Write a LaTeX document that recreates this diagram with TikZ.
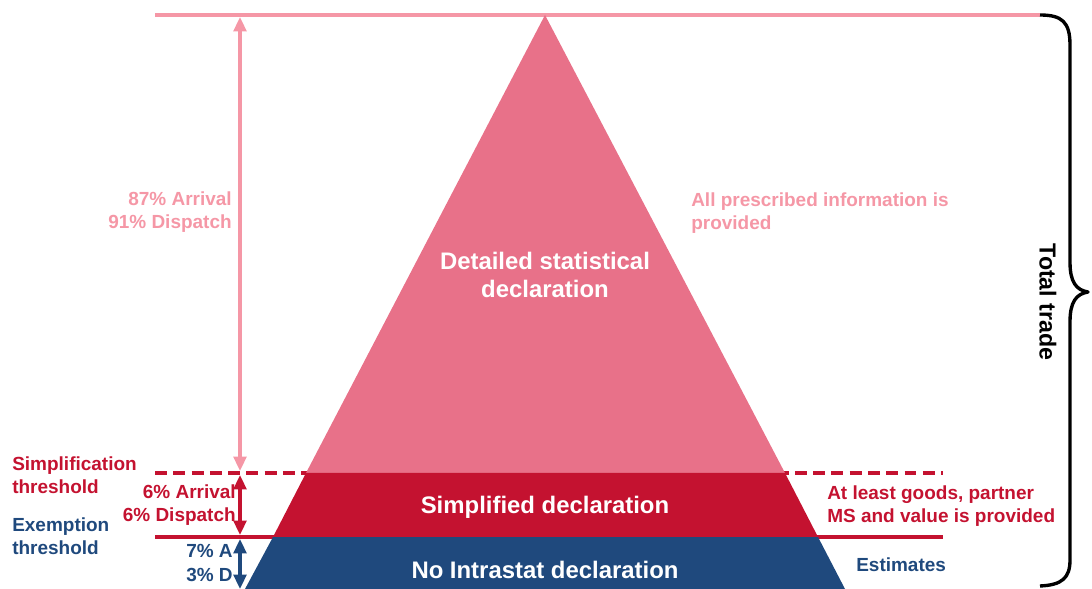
\documentclass[tikz,border=0pt]{standalone}
\usepackage{fontspec}
\setmainfont{Liberation Sans}
\usetikzlibrary{arrows.meta}
\definecolor{lightpink}{HTML}{F597A6}
\definecolor{midpink}{HTML}{E87189}
\definecolor{darkred}{HTML}{C41230}
\definecolor{darkblue}{HTML}{1F497D}

\begin{document}
\begin{tikzpicture}[x=0.025cm, y=-0.025cm,
    lbl/.style={font=\bfseries\fontsize{13.5}{16.4}\selectfont, inner sep=0pt},
    big/.style={font=\bfseries\fontsize{17}{19.9}\selectfont, white, align=center, inner sep=0pt},
    dim/.style={{Triangle[length=3.6mm,width=3.2mm]}-{Triangle[length=3.6mm,width=3.2mm]}, line width=2.2pt}]
    \useasboundingbox (0,0) rectangle (1092,589);

    % Punkty charakterystyczne
    \coordinate (apex) at (545,15);
    \coordinate (topL) at (155,15);
    \coordinate (topR) at (1040,15);
    \coordinate (simpL) at (155,473);
    \coordinate (simpR) at (943,473);
    \coordinate (exL) at (155,537);
    \coordinate (exR) at (943,537);

    % Linie progow
    \draw[lightpink, line width=2.6pt] (topL) -- (topR);
    \draw[darkred, line width=2.6pt, dash pattern=on 8.5pt off 4.5pt] (simpL) -- (simpR);
    \draw[darkred, line width=2.6pt] (exL) -- (exR);

    % Piramida
    \fill[midpink] (apex) -- (306,473) -- (785,473) -- cycle;
    \fill[darkred] (306,473) -- (273,537) -- (818,537) -- (785,473) -- cycle;
    \fill[darkblue] (273,537) -- (245,589) -- (845,589) -- (818,537) -- cycle;

    % Napisy w piramidzie
    \node[big] (detailed) at (545,275) {Detailed statistical\\declaration};
    \node[big] (simplified) at (545,507) {Simplified declaration};
    \node[big] (nointra) at (545,570) {No Intrastat declaration};

    % Strzalki wymiarowe
    \coordinate (d1) at (240,17);
    \coordinate (d2) at (240,471);
    \coordinate (d3) at (240,475);
    \coordinate (d4) at (240,535);
    \coordinate (d5) at (240,539);
    \coordinate (d6) at (240,589);
    \draw[dim, lightpink] (d1) -- (d2);
    \draw[dim, darkred] (d3) -- (d4);
    \draw[dim, darkblue] (d5) -- (d6);

    % Udzialy
    \node[lbl, lightpink, anchor=east, align=right] (share1) at (232,212) {87\% Arrival\\91\% Dispatch};
    \node[lbl, darkred, anchor=east, align=right] (share2) at (236,505) {6\% Arrival\\6\% Dispatch};
    \node[lbl, darkblue, anchor=east, align=right] (share3) at (233,563) {7\% A\\3\% D};

    % Progi
    \node[lbl, darkred, anchor=west, align=left] (simpth) at (12,475) {Simplification\\threshold};
    \node[lbl, darkblue, anchor=west, align=left] (exth) at (12,536) {Exemption\\threshold};

    % Opisy po prawej
    \node[lbl, lightpink, anchor=west, align=left] (allinfo) at (691,213) {All prescribed information is\\provided};
    \node[lbl, darkred, anchor=west, align=left] (atleast) at (827,506) {At least goods, partner\\MS and value is provided};
    \node[lbl, darkblue, anchor=west, align=left] (estim) at (856,565) {Estimates};

    % Klamra
    \draw[black, line width=2.4pt, line join=round]
        (topR) .. controls (1062,15) and (1070,22) .. (1070,45)
        -- (1070,262) .. controls (1070,282) and (1076,290) .. (1088,292)
        .. controls (1076,294) and (1070,302) .. (1070,322)
        -- (1070,560) .. controls (1070,578) and (1062,585) .. (1040,586);
    \node[lbl, black, rotate=-90, font=\bfseries\fontsize{16.5}{19}\selectfont] (total) at (1048,302) {Total trade};
\end{tikzpicture}
\end{document}
